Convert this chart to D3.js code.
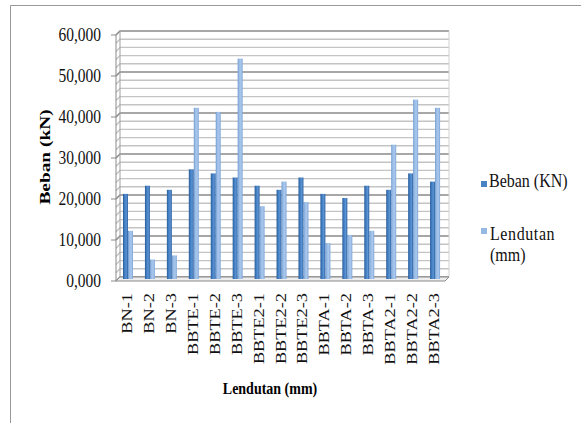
<!DOCTYPE html>
<html>
<head>
<meta charset="utf-8">
<script src="https://cdn.jsdelivr.net/npm/d3@7"></script>
<style>
  body { margin: 0; background: #fff; }
  svg text { font-family: "Liberation Serif", "Times New Roman", Times, "DejaVu Serif", serif; }
</style>
</head>
<body>
<div id="chart"></div>
<script>
// data
const categories = ["BN-1", "BN-2", "BN-3", "BBTE-1", "BBTE-2", "BBTE-3",
  "BBTE2-1", "BBTE2-2", "BBTE2-3", "BBTA-1", "BBTA-2", "BBTA-3",
  "BBTA2-1", "BBTA2-2", "BBTA2-3"];
const beban = [21000, 23000, 22000, 27000, 26000, 25000, 23000, 22000, 25000, 21000, 20000, 23000, 22000, 26000, 24000];
const lendutan = [12000, 5000, 6000, 42000, 41000, 54000, 18000, 24000, 19000, 9000, 11000, 12000, 33000, 44000, 42000];
const seriesNames = ["Beban (KN)", "Lendutan (mm)"];
const yTicks = [0, 10000, 20000, 30000, 40000, 50000, 60000];

const width = 581, height = 423;
const depth = 4; // 3d offset of the back wall
const serif = "'Liberation Serif', 'Times New Roman', Times, 'DejaVu Serif', serif";

const svg = d3.select("#chart").append("svg")
  .attr("width", width).attr("height", height)
  .attr("font-family", serif);

// outer frame (only top + left visible)
svg.append("path")
  .attr("d", "M10.5,423 V5.5 H581")
  .attr("fill", "none").attr("stroke", "#999").attr("stroke-width", 1);

const x = d3.scaleBand().domain(categories).range([116, 445]);
const x1 = d3.scaleBand().domain(seriesNames).range([7, 17]);
const y = d3.scaleLinear().domain([0, 60000]).range([281, 35]);

const defs = svg.append("defs");
function grad(id, stops) {
  const g = defs.append("linearGradient").attr("id", id)
    .attr("x1", 0).attr("x2", 1).attr("y1", 0).attr("y2", 0);
  stops.forEach(s => g.append("stop").attr("offset", s[0]).attr("stop-color", s[1]));
}
grad("gDark", [[0, "#2a5b94"], [0.3, "#3f7bc0"], [0.65, "#5b93d3"], [1, "#2f62a0"]]);
grad("gLight", [[0, "#6d98cf"], [0.3, "#9abde6"], [0.65, "#a9c7ec"], [1, "#7ea5d8"]]);

// gridlines: back wall + little slanted side part
const minor = d3.range(0, 60001, 2000);
const grid = svg.append("g");
minor.forEach(v => {
  const major = v % 10000 === 0;
  const yy = y(v);
  grid.append("path")
    .attr("d", `M116,${yy} L${116 + depth},${yy - depth} H${445 + depth}`)
    .attr("fill", "none")
    .attr("stroke", major ? "#8a8a8a" : "#c4c4c4")
    .attr("stroke-width", major ? 1.6 : 1.4);
});
// back wall edges
svg.append("line")
  .attr("x1", 445 + depth).attr("x2", 445 + depth)
  .attr("y1", y(60000) - depth).attr("y2", y(0) - depth)
  .attr("stroke", "#d0d0d0");
svg.append("line")
  .attr("x1", 116 + depth).attr("x2", 116 + depth)
  .attr("y1", y(60000) - depth).attr("y2", y(0) - depth)
  .attr("stroke", "#a0a0a0");

// floor
svg.append("path")
  .attr("d", `M116,${y(0)} L${116 + depth},${y(0) - depth} H${445 + depth} L445,${y(0)} Z`)
  .attr("fill", "#eeeeee").attr("stroke", "#8a8a8a").attr("stroke-width", 1);

// bars
const rows = categories.map((c, i) => ({ cat: c, vals: [beban[i], lendutan[i]] }));
const groups = svg.append("g").selectAll("g")
  .data(rows).join("g")
  .attr("transform", d => `translate(${x(d.cat)},0)`);

groups.selectAll("rect")
  .data(d => d.vals.map((v, j) => ({ name: seriesNames[j], v })))
  .join("rect")
  .attr("x", d => x1(d.name))
  .attr("width", x1.bandwidth())
  .attr("y", d => y(d.v) - 1)
  .attr("height", d => y(0) - y(d.v) - 1)
  .attr("fill", d => d.name === seriesNames[0] ? "url(#gDark)" : "url(#gLight)");

// y axis
const yAxis = svg.append("g");
yAxis.append("line")
  .attr("x1", 116).attr("x2", 116).attr("y1", y(60000)).attr("y2", y(0))
  .attr("stroke", "#8a8a8a");
yAxis.selectAll("line.tick")
  .data(yTicks).join("line")
  .attr("class", "tick")
  .attr("x1", 111).attr("x2", 116).attr("y1", d => y(d)).attr("y2", d => y(d))
  .attr("stroke", "#8a8a8a");
yAxis.selectAll("text")
  .data(yTicks).join("text")
  .attr("transform", d => `translate(101,${y(d) + 6}) scale(1,1.22)`)
  .attr("text-anchor", "end")
  .attr("font-size", 15.5)
  .attr("fill", "#111")
  .text(d => (d / 1000) + ",000");

// x labels
svg.append("g").selectAll("text")
  .data(categories).join("text")
  .attr("transform", d => `translate(${x(d) + x.bandwidth() / 2 + 5},293) rotate(-90) scale(1.22,1)`)
  .attr("text-anchor", "end")
  .attr("font-size", 15)
  .attr("fill", "#111")
  .text(d => d);

// axis titles
svg.append("text")
  .attr("transform", `translate(50,157) rotate(-90) scale(1.25,1)`)
  .attr("text-anchor", "middle")
  .attr("font-size", 15.5)
  .attr("font-weight", "bold")
  .text("Beban (kN)");

svg.append("text")
  .attr("transform", `translate(270,394) scale(1,1.25)`)
  .attr("text-anchor", "middle")
  .attr("font-size", 14)
  .attr("font-weight", "bold")
  .text("Lendutan (mm)");

// legend
const legend = svg.append("g");
legend.append("rect").attr("x", 481).attr("y", 181).attr("width", 6).attr("height", 6).attr("fill", "#4a82c2");
legend.append("text")
  .attr("transform", "translate(489,187) scale(1,1.2)")
  .attr("font-size", 16).attr("fill", "#111")
  .text(seriesNames[0]);
legend.append("rect").attr("x", 481).attr("y", 228).attr("width", 6).attr("height", 6).attr("fill", "#95b9e3");
legend.append("text")
  .attr("transform", "translate(490,240) scale(1,1.15)")
  .attr("font-size", 16).attr("fill", "#111")
  .attr("letter-spacing", 0.6)
  .text("Lendutan");
legend.append("text")
  .attr("transform", "translate(490,261) scale(1,1.15)")
  .attr("font-size", 16).attr("fill", "#111")
  .text("(mm)");
</script>
</body>
</html>
